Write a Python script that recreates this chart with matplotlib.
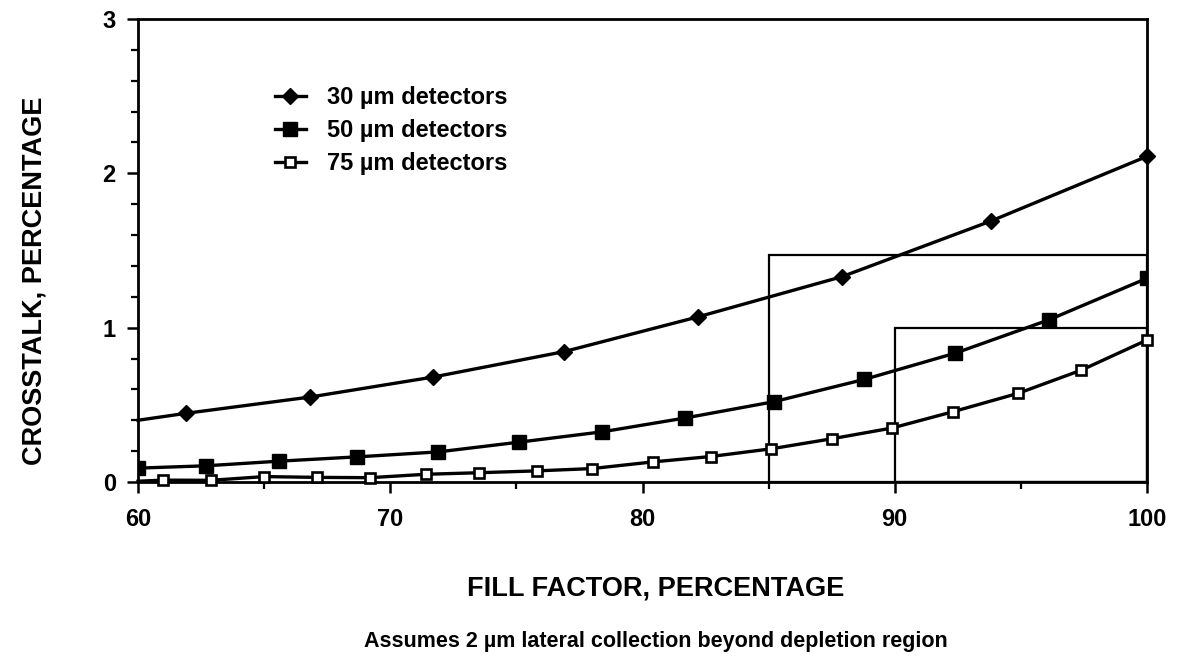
import matplotlib
matplotlib.use("Agg")
import matplotlib.pyplot as plt
from matplotlib.patches import Rectangle
from matplotlib.ticker import MultipleLocator

plt.rcParams['font.family'] = ['Liberation Sans', 'DejaVu Sans']
plt.rcParams['font.weight'] = 'bold'

# ---- data ----
labels = ["30 \u00b5m detectors", "50 \u00b5m detectors", "75 \u00b5m detectors"]

x30 = [60.0, 61.9, 66.8, 71.7, 76.9, 82.2, 87.9, 93.8, 100.0]
y30 = [0.40, 0.445, 0.55, 0.68, 0.845, 1.07, 1.33, 1.69, 2.11]

x50 = [60.0, 62.7, 65.6, 68.7, 71.9, 75.1, 78.4, 81.7, 85.2, 88.8, 92.4, 96.1, 100.0]
y50 = [0.09, 0.105, 0.135, 0.163, 0.195, 0.258, 0.325, 0.415, 0.52, 0.665, 0.835, 1.05, 1.32]

x75 = [60.0, 61.0, 62.9, 65.0, 67.1, 69.2, 71.4, 73.5, 75.8, 78.0, 80.4, 82.7,
       85.1, 87.5, 89.9, 92.3, 94.9, 97.4, 100.0]
y75 = [0.005, 0.012, 0.011, 0.035, 0.03, 0.028, 0.05, 0.06, 0.072, 0.087, 0.13, 0.165,
       0.215, 0.28, 0.35, 0.455, 0.575, 0.725, 0.92]

# highlighted regions: (x_start, x_end, height)
boxes_x0 = [85, 90]
boxes_x1 = [100, 100]
boxes_h = [1.47, 1.0]

xticks = [60, 70, 80, 90, 100]
yticks = [0, 1, 2, 3]

fig = plt.figure(figsize=(11.79, 6.61), dpi=100)
ax = fig.add_axes([138/1179, 1 - 482/661, (1147 - 138)/1179, (482 - 19)/661])

for x0, x1, h in zip(boxes_x0, boxes_x1, boxes_h):
    ax.add_patch(Rectangle((x0, 0), x1 - x0, h, fill=False, edgecolor='black',
                           linewidth=1.6, zorder=2))

lw = 2.4
ax.plot(x30, y30, color='black', lw=lw, marker='D', ms=8.5, mfc='black', mec='black',
        markevery=list(range(1, len(x30))), label=labels[0], zorder=3, clip_on=False)
ax.plot(x50, y50, color='black', lw=lw, marker='s', ms=9.5, mfc='black', mec='black',
        label=labels[1], zorder=3, clip_on=True)
ax.plot(x75, y75, color='black', lw=lw, marker='s', ms=7.5, mfc='white', mec='black', mew=1.9,
        markevery=list(range(1, len(x75))), label=labels[2], zorder=4, clip_on=False)

ax.set_xlim(60, 100)
ax.set_ylim(0, 3)
ax.set_xticks(xticks)
ax.set_yticks(yticks)
ax.xaxis.set_minor_locator(MultipleLocator(5))
ax.yaxis.set_minor_locator(MultipleLocator(0.2))
ax.tick_params(axis='both', which='major', direction='out', length=8, width=1.8,
               labelsize=17)
ax.tick_params(axis='both', which='minor', direction='out', length=5, width=1.6)
ax.tick_params(axis='x', which='major', pad=11)
ax.tick_params(axis='y', which='major', pad=8)
for lab in ax.get_xticklabels() + ax.get_yticklabels():
    lab.set_fontweight('bold')
for sp in ax.spines.values():
    sp.set_linewidth(2.0)

leg = ax.legend(loc='upper left', bbox_to_anchor=(275/1179, 1 - 86/661),
                bbox_transform=fig.transFigure, frameon=False, fontsize=17,
                handlelength=1.3, handletextpad=0.9, labelspacing=0.42, borderpad=0,
                borderaxespad=0)
for t in leg.get_texts():
    t.set_fontweight('bold')

fig.text(656/1179, 1 - 588/661, "FILL FACTOR, PERCENTAGE", ha='center', va='center',
         fontsize=19.5, fontweight='bold')
fig.text(35/1179, 1 - 281/661, "CROSSTALK, PERCENTAGE", ha='center', va='center',
         rotation=90, fontsize=19.5, fontweight='bold')
fig.text(656/1179, 1 - 642/661,
         "Assumes 2 \u00b5m lateral collection beyond depletion region",
         ha='center', va='center', fontsize=15.5, fontweight='bold')

fig.savefig("out.png", dpi=100)
